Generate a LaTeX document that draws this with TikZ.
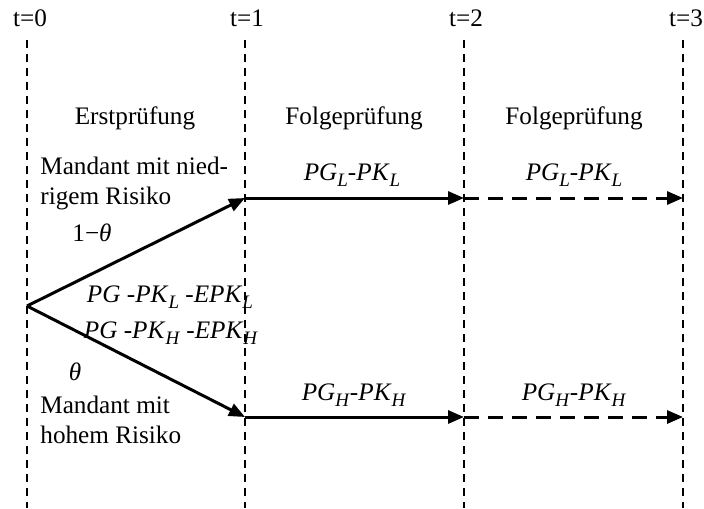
\documentclass[tikz,border=0pt]{standalone}
\usepackage{fontspec}
\setmainfont{Liberation Serif}
\usetikzlibrary{arrows.meta}
\newcommand{\ix}[2]{\textit{#1}\raisebox{-0.25em}{\fontsize{9.5}{10}\selectfont\textit{#2}}}
\begin{document}
\begin{tikzpicture}[x=0.5pt,y=-0.5pt,
  vline/.style={line width=0.75pt, dash pattern=on 4pt off 3pt},
  solidarrow/.style={line width=1.5pt, -{Triangle[length=8pt,width=6.5pt]}},
  dasharrow/.style={line width=1.5pt, dash pattern=on 7.5pt off 4.5pt, -{Triangle[length=8pt,width=6.5pt]}},
  lbl/.style={inner sep=0pt, font=\fontsize{12.6}{15}\selectfont},
  mlbl/.style={lbl, align=left, anchor=west}]
\useasboundingbox (0,0) rectangle (704,508);
% time labels
\node[lbl] (t0) at (30,18) {t=0};
\node[lbl] (t1) at (247,18) {t=1};
\node[lbl] (t2) at (466,18) {t=2};
\node[lbl] (t3) at (686,18) {t=3};
% vertical dashed lines
\coordinate (v0a) at (27,40); \coordinate (v0b) at (27,508);
\coordinate (v1a) at (245,40); \coordinate (v1b) at (245,508);
\coordinate (v2a) at (464,40); \coordinate (v2b) at (464,508);
\coordinate (v3a) at (683,40); \coordinate (v3b) at (683,508);
\draw[vline] (v0a) -- (v0b);
\draw[vline] (v1a) -- (v1b);
\draw[vline] (v2a) -- (v2b);
\draw[vline] (v3a) -- (v3b);
% phase labels
\node[lbl] (erst) at (135,118) {Erstprüfung};
\node[lbl] (folg1) at (354,118) {Folgeprüfung};
\node[lbl] (folg2) at (574,118) {Folgeprüfung};
% points
\coordinate (s) at (27,306);
\coordinate (u1) at (245,198);
\coordinate (u2) at (464,198);
\coordinate (u3) at (683,198);
\coordinate (l1) at (245,417);
\coordinate (l2) at (464,417);
\coordinate (l3) at (683,417);
% arrows
\draw[solidarrow] (s) -- (u1);
\draw[solidarrow] (s) -- (l1);
\draw[solidarrow] (u1) -- (u2);
\draw[solidarrow] (l1) -- (l2);
\draw[dasharrow] (u2) -- (u3);
\draw[dasharrow] (l2) -- (l3);
% texts
\node[mlbl] (mlow) at (40,183) {Mandant mit nied-\\rigem Risiko};
\node[lbl] (p1) at (92,233) {1−\textit{θ}};
\node[lbl] (eL) at (170,297) {\textit{PG} -\ix{PK}{L} -\ix{EPK}{L}};
\node[lbl] (eH) at (171,333) {\textit{PG} -\ix{PK}{H} -\ix{EPK}{H}};
\node[lbl] (p2) at (75,372) {\textit{θ}};
\node[mlbl] (mhigh) at (40,420) {Mandant mit\\hohem Risiko};
\node[lbl] (L1) at (352,175) {\ix{PG}{L}-\ix{PK}{L}};
\node[lbl] (L2) at (574,175) {\ix{PG}{L}-\ix{PK}{L}};
\node[lbl] (H1) at (354,395) {\ix{PG}{H}-\ix{PK}{H}};
\node[lbl] (H2) at (574,395) {\ix{PG}{H}-\ix{PK}{H}};
\end{tikzpicture}
\end{document}
